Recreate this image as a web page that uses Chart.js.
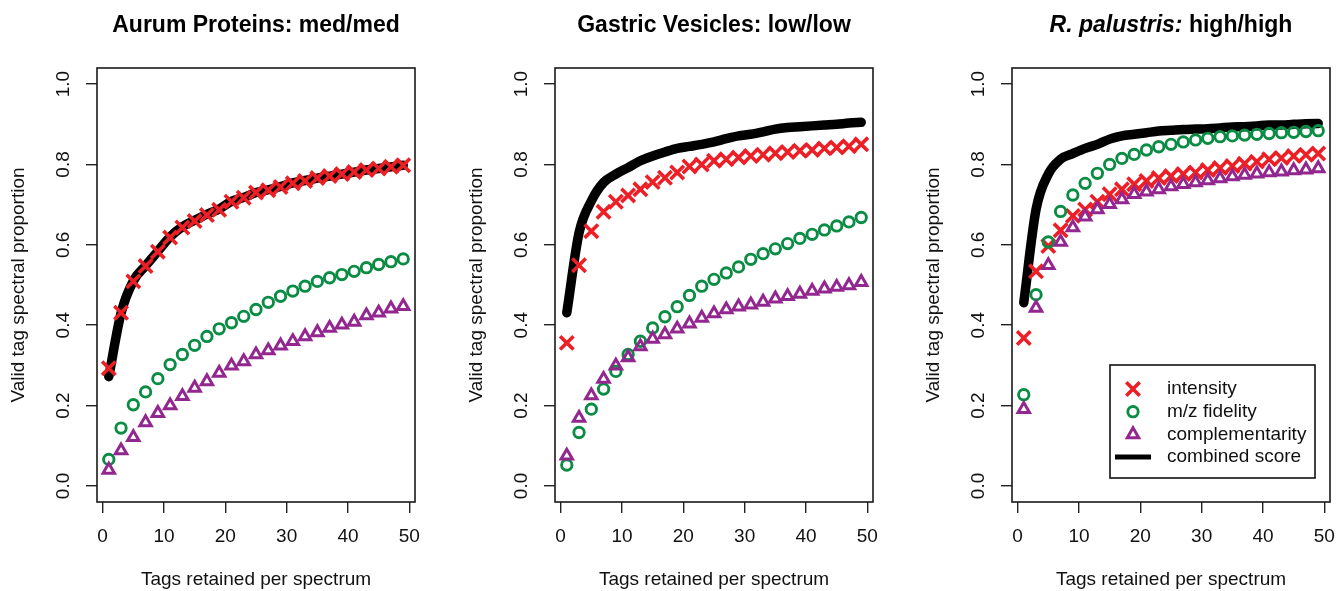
<!DOCTYPE html>
<html>
<head>
<meta charset="utf-8">
<script src="https://cdn.jsdelivr.net/npm/chart.js@4.4.1/dist/chart.umd.min.js"></script>
<style>
  body { margin: 0; background: #fff; width: 1337px; height: 591px; overflow: hidden; position: relative; }
  canvas { position: absolute; top: 0; }
</style>
</head>
<body>
<canvas id="panel1" width="445" height="591" style="left:0px"></canvas>
<canvas id="panel2" width="445" height="591" style="left:458px"></canvas>
<canvas id="panel3" width="435" height="591" style="left:915px"></canvas>
<script>
// tags retained per spectrum (x positions of the markers)
const tagCounts = [1, 3, 5, 7, 9, 11, 13, 15, 17, 19, 21, 23, 25, 27, 29, 31, 33, 35, 37, 39, 41, 43, 45, 47, 49];
const xTicks = [0, 10, 20, 30, 40, 50];
const yTicks = [0.0, 0.2, 0.4, 0.6, 0.8, 1.0];
const seriesNames = ['intensity', 'm/z fidelity', 'complementarity', 'combined score'];

// Aurum Proteins: med/med
const aurumIntensity = [0.293, 0.431, 0.509, 0.547, 0.583, 0.618, 0.643, 0.659, 0.674, 0.687, 0.707, 0.717, 0.730, 0.736, 0.744, 0.753, 0.759, 0.766, 0.771, 0.776, 0.781, 0.786, 0.790, 0.794, 0.798];
const aurumFidelity = [0.066, 0.144, 0.202, 0.234, 0.267, 0.302, 0.327, 0.350, 0.372, 0.391, 0.406, 0.422, 0.439, 0.457, 0.472, 0.485, 0.497, 0.509, 0.518, 0.526, 0.534, 0.543, 0.551, 0.558, 0.565];
const aurumCompl = [0.040, 0.088, 0.121, 0.158, 0.181, 0.200, 0.223, 0.244, 0.260, 0.281, 0.299, 0.310, 0.327, 0.337, 0.349, 0.360, 0.372, 0.382, 0.393, 0.401, 0.408, 0.424, 0.431, 0.441, 0.447];
const aurumCombined = [0.272, 0.430, 0.510, 0.548, 0.584, 0.620, 0.645, 0.661, 0.676, 0.689, 0.708, 0.718, 0.730, 0.737, 0.745, 0.754, 0.760, 0.766, 0.771, 0.776, 0.781, 0.786, 0.790, 0.794, 0.798];

// Gastric Vesicles: low/low
const gastricIntensity = [0.356, 0.549, 0.634, 0.682, 0.707, 0.723, 0.738, 0.756, 0.767, 0.780, 0.795, 0.800, 0.809, 0.813, 0.817, 0.821, 0.824, 0.828, 0.831, 0.834, 0.836, 0.840, 0.842, 0.845, 0.850];
const gastricFidelity = [0.052, 0.133, 0.191, 0.241, 0.285, 0.327, 0.360, 0.393, 0.421, 0.446, 0.474, 0.497, 0.514, 0.530, 0.545, 0.564, 0.578, 0.590, 0.603, 0.616, 0.626, 0.637, 0.647, 0.657, 0.668];
const gastricCompl = [0.075, 0.169, 0.225, 0.266, 0.299, 0.320, 0.347, 0.366, 0.377, 0.391, 0.404, 0.418, 0.429, 0.439, 0.446, 0.451, 0.458, 0.466, 0.472, 0.478, 0.485, 0.491, 0.495, 0.499, 0.507];
const gastricCombined = [0.431, 0.630, 0.709, 0.755, 0.776, 0.792, 0.809, 0.821, 0.831, 0.840, 0.845, 0.850, 0.856, 0.864, 0.871, 0.875, 0.881, 0.888, 0.892, 0.894, 0.896, 0.898, 0.900, 0.903, 0.905];

// R. palustris: high/high
const palustrisIntensity = [0.368, 0.534, 0.597, 0.636, 0.672, 0.688, 0.707, 0.726, 0.738, 0.751, 0.759, 0.766, 0.771, 0.776, 0.780, 0.786, 0.791, 0.796, 0.802, 0.807, 0.813, 0.816, 0.821, 0.824, 0.827];
const palustrisFidelity = [0.227, 0.476, 0.607, 0.683, 0.724, 0.753, 0.778, 0.800, 0.815, 0.825, 0.836, 0.844, 0.850, 0.856, 0.861, 0.865, 0.869, 0.871, 0.873, 0.875, 0.877, 0.879, 0.880, 0.882, 0.884];
const palustrisCompl = [0.191, 0.443, 0.549, 0.607, 0.643, 0.670, 0.688, 0.701, 0.713, 0.726, 0.732, 0.738, 0.745, 0.751, 0.755, 0.760, 0.765, 0.770, 0.774, 0.777, 0.780, 0.782, 0.785, 0.787, 0.790];
const palustrisCombined = [0.456, 0.688, 0.776, 0.813, 0.827, 0.840, 0.850, 0.863, 0.871, 0.875, 0.879, 0.883, 0.885, 0.887, 0.888, 0.889, 0.891, 0.893, 0.894, 0.896, 0.898, 0.898, 0.900, 0.901, 0.902];

const FONT = "'Liberation Sans', Arial, Helvetica, sans-serif";
const RED = '#ec1f26';
const GREEN = '#0a8c44';
const PURPLE = '#922790';

function pairs(ys) {
  return tagCounts.map((x, i) => ({ x: x, y: ys[i] }));
}

// frame round the plot region, like R's box()
const boxPlugin = {
  id: 'box',
  beforeDatasetsDraw(chart) {
    const a = chart.chartArea;
    const ctx = chart.ctx;
    ctx.save();
    ctx.strokeStyle = '#1a1a1a';
    ctx.lineWidth = 1.6;
    ctx.strokeRect(a.left, a.top, a.right - a.left, a.bottom - a.top);
    ctx.restore();
  }
};

// title with mixed italic/normal parts
const titlePlugin = {
  id: 'mixedTitle',
  afterDraw(chart, args, opts) {
    if (!opts.parts) return;
    const ctx = chart.ctx;
    const a = chart.chartArea;
    ctx.save();
    ctx.fillStyle = '#000';
    ctx.textBaseline = 'middle';
    let total = 0;
    const widths = opts.parts.map(p => {
      ctx.font = (p.italic ? 'italic ' : '') + 'bold ' + opts.size + 'px ' + FONT;
      const w = ctx.measureText(p.text).width;
      total += w;
      return w;
    });
    let x = (a.left + a.right) / 2 - total / 2;
    opts.parts.forEach((p, i) => {
      ctx.font = (p.italic ? 'italic ' : '') + 'bold ' + opts.size + 'px ' + FONT;
      ctx.textAlign = 'left';
      ctx.fillText(p.text, x, opts.y);
      x += widths[i];
    });
    ctx.restore();
  }
};

// legend box drawn inside the plot area (bottom right)
const insideLegend = {
  id: 'insideLegend',
  afterDraw(chart, args, opts) {
    if (!opts.show) return;
    const ctx = chart.ctx;
    const a = chart.chartArea;
    const w = 205, h = 113;
    const left = a.right - 15 - w;
    const top = a.bottom - 24 - h;
    ctx.save();
    ctx.fillStyle = '#fff';
    ctx.fillRect(left, top, w, h);
    ctx.strokeStyle = '#111';
    ctx.lineWidth = 1.6;
    ctx.strokeRect(left, top, w, h);
    ctx.font = '19px ' + FONT;
    ctx.textBaseline = 'middle';
    ctx.textAlign = 'left';
    const order = [0, 1, 2, 3];
    order.forEach((di, row) => {
      const ds = chart.data.datasets[di];
      const y = top + 24 + row * 22.7;
      const sx = left + 23;
      if (ds.showLine === false) {
        ctx.strokeStyle = ds.borderColor;
        ctx.fillStyle = 'rgba(0,0,0,0)';
        ctx.lineWidth = ds.pointBorderWidth;
        Chart.helpers.drawPoint(ctx, {
          pointStyle: ds.pointStyle, rotation: 0, radius: ds.pointRadius, borderWidth: ds.pointBorderWidth
        }, sx, y);
      } else {
        ctx.strokeStyle = ds.borderColor;
        ctx.lineWidth = 5;
        ctx.lineCap = 'butt';
        ctx.beginPath();
        ctx.moveTo(sx - 18, y);
        ctx.lineTo(sx + 18, y);
        ctx.stroke();
      }
      ctx.fillStyle = '#111';
      ctx.fillText(ds.label, left + 57, y);
    });
    ctx.restore();
  }
};

function makePanel(id, titleParts, intensity, fidelity, compl, combined, padRight, showLegend) {
  return new Chart(document.getElementById(id), {
    type: 'line',
    data: {
      datasets: [
        {
          label: seriesNames[0], data: pairs(intensity), showLine: false, order: 2,
          pointStyle: 'crossRot', pointRadius: 9.5, pointHoverRadius: 9.5, pointBorderWidth: 3.6,
          borderColor: RED, pointBorderColor: RED, backgroundColor: 'rgba(0,0,0,0)'
        },
        {
          label: seriesNames[1], data: pairs(fidelity), showLine: false, order: 1,
          pointStyle: 'circle', pointRadius: 5.2, pointHoverRadius: 5.2, pointBorderWidth: 2.9,
          borderColor: GREEN, pointBorderColor: GREEN, pointBackgroundColor: 'rgba(0,0,0,0)', backgroundColor: 'rgba(0,0,0,0)'
        },
        {
          label: seriesNames[2], data: pairs(compl), showLine: false, order: 0,
          pointStyle: 'triangle', pointRadius: 6.6, pointHoverRadius: 6.6, pointBorderWidth: 3,
          borderColor: PURPLE, pointBorderColor: PURPLE, pointBackgroundColor: 'rgba(0,0,0,0)', backgroundColor: 'rgba(0,0,0,0)'
        },
        {
          label: seriesNames[3], data: pairs(combined), order: 3,
          borderColor: '#000', borderWidth: 9.5, pointRadius: 0, fill: false,
          cubicInterpolationMode: 'monotone', borderCapStyle: 'round', borderJoinStyle: 'round'
        }
      ]
    },
    options: {
      responsive: false,
      animation: false,
      events: [],
      layout: { padding: { top: 68, right: padRight, left: 0, bottom: 0 } },
      plugins: {
        legend: { display: false },
        title: { display: false },
        tooltip: { enabled: false },
        mixedTitle: { parts: titleParts, size: 23, y: 26 },
        insideLegend: { show: showLegend }
      },
      scales: {
        x: {
          type: 'linear',
          min: -0.92, max: 50.92,
          afterFit: s => { s.height = 89; },
          afterBuildTicks: s => { s.ticks = xTicks.map(v => ({ value: v })); },
          ticks: { color: '#111', font: { family: FONT, size: 19 }, padding: 12, maxRotation: 0 },
          grid: { drawOnChartArea: false, drawTicks: true, tickLength: 11, color: '#222', lineWidth: 1.4 },
          border: { display: false },
          title: { display: true, text: 'Tags retained per spectrum', color: '#111',
                   font: { family: FONT, size: 19 }, padding: { top: 0, bottom: 0 } }
        },
        y: {
          type: 'linear',
          min: -0.04, max: 1.04,
          afterFit: s => { s.width = 97; },
          afterBuildTicks: s => { s.ticks = yTicks.map(v => ({ value: v })); },
          ticks: { color: '#111', font: { family: FONT, size: 19 }, padding: 9,
                   minRotation: 90, maxRotation: 90, crossAlign: 'center', autoSkip: false,
                   callback: v => v.toFixed(1) },
          grid: { drawOnChartArea: false, drawTicks: true, tickLength: 11, color: '#222', lineWidth: 1.4 },
          border: { display: false },
          title: { display: true, text: 'Valid tag spectral proportion', color: '#111',
                   font: { family: FONT, size: 19 }, padding: { top: 7, bottom: 0 } }
        }
      }
    },
    plugins: [boxPlugin, titlePlugin, insideLegend]
  });
}

makePanel('panel1', [{ text: 'Aurum Proteins: med/med' }],
  aurumIntensity, aurumFidelity, aurumCompl, aurumCombined, 30, false);
makePanel('panel2', [{ text: 'Gastric Vesicles: low/low' }],
  gastricIntensity, gastricFidelity, gastricCompl, gastricCombined, 30, false);
makePanel('panel3', [{ text: 'R. palustris:', italic: true }, { text: ' high/high' }],
  palustrisIntensity, palustrisFidelity, palustrisCompl, palustrisCombined, 20, true);
</script>
</body>
</html>
